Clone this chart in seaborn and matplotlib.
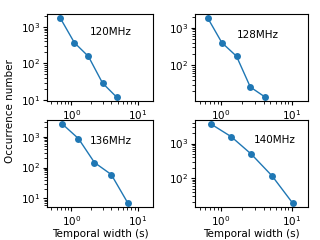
import numpy as np
import pandas as pd
import matplotlib
matplotlib.use("Agg")
import matplotlib.pyplot as plt
import seaborn as sns

freqs = ["120MHz", "128MHz", "136MHz", "140MHz"]
width_120 = [0.68, 1.11, 1.81, 2.95, 4.8]
count_120 = [1750, 370, 155, 29, 12]
width_128 = [0.65, 1.03, 1.66, 2.6, 4.2]
count_128 = [1830, 400, 173, 26, 14]
width_136 = [0.73, 1.28, 2.23, 4.0, 7.1]
count_136 = [2600, 870, 145, 59, 7]
width_140 = [0.72, 1.4, 2.7, 5.3, 10.3]
count_140 = [3700, 1580, 490, 115, 19]

widths = [width_120, width_128, width_136, width_140]
counts = [count_120, count_128, count_136, count_140]
label_pos = [(0.6, 0.79), (0.56, 0.76), (0.6, 0.76), (0.71, 0.77)]

fs = 7.5
plt.rcParams['font.size'] = fs

fig = plt.figure(figsize=(3.2, 2.4), dpi=100)
W, H = 320, 240
boxes = [(47, 14, 106, 87), (195, 14, 113, 87),
         (47, 120, 106, 87), (195, 120, 113, 87)]

for i in range(4):
    x0, y0, w, h = boxes[i]
    ax = fig.add_axes([x0 / W, 1 - (y0 + h) / H, w / W, h / H])
    df = pd.DataFrame({'width': widths[i], 'count': counts[i]})
    sns.lineplot(data=df, x='width', y='count', marker='o', color='#1f77b4',
                 markersize=5, markeredgewidth=0, linewidth=1, ax=ax)
    ax.set_xscale('log')
    ax.set_yscale('log')
    ax.set_xlim(0.43, 17)
    ax.tick_params(labelsize=fs, pad=2, length=3)
    ax.text(label_pos[i][0], label_pos[i][1], freqs[i], transform=ax.transAxes,
            ha='center', va='center', fontsize=fs)
    ax.set_ylabel('')
    if i >= 2:
        ax.set_xlabel('Temporal width (s)', fontsize=fs, labelpad=1)
    else:
        ax.set_xlabel('')

fig.text(10 / W, 1 - 111 / H, 'Occurrence number', rotation=90,
         ha='center', va='center', fontsize=fs)

fig.savefig('out.png', dpi=100)
